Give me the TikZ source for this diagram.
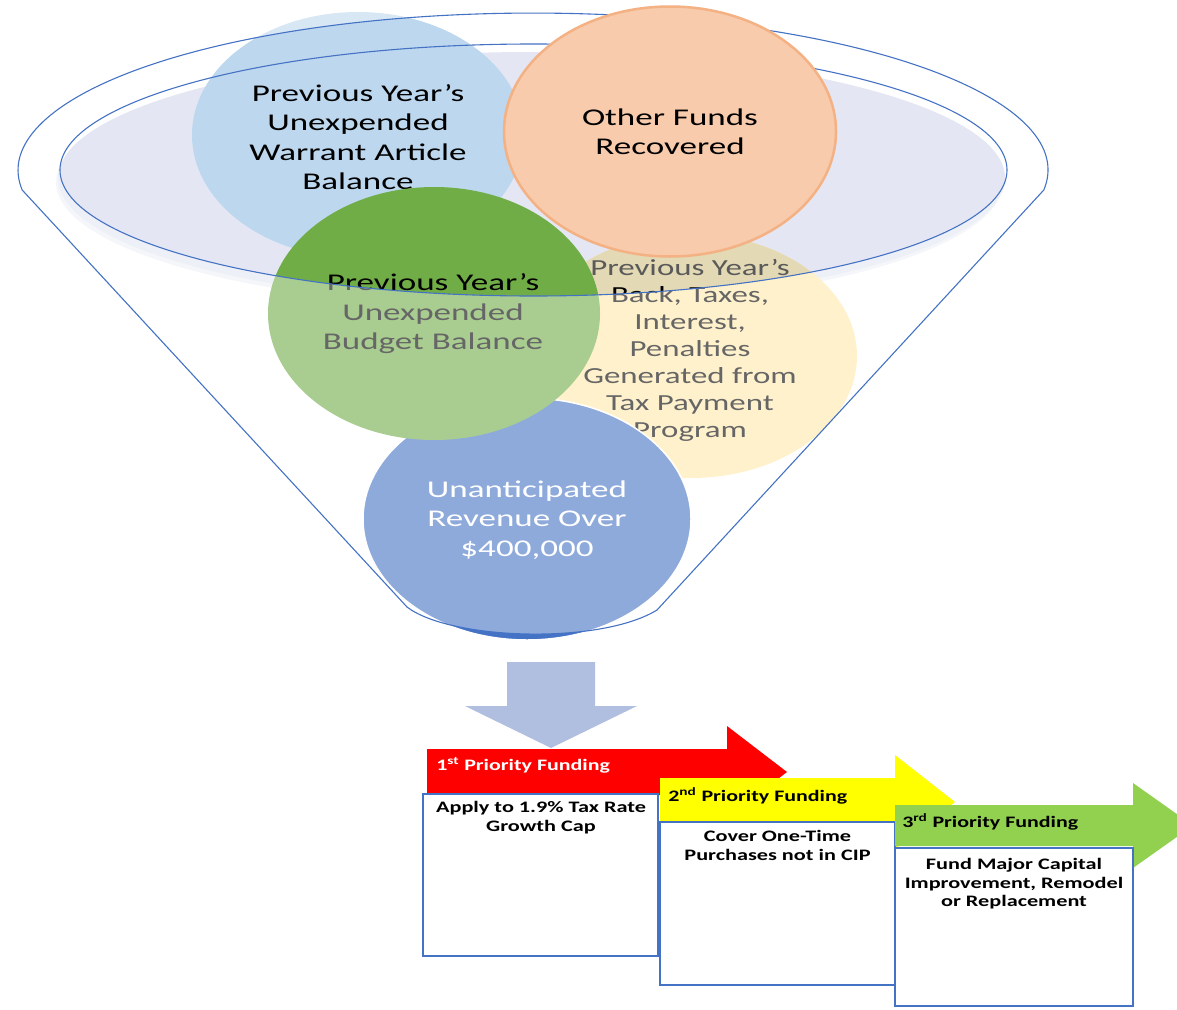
\documentclass[tikz,border=0pt]{standalone}
\usepackage{fontspec}
\setmainfont{Carlito}
\definecolor{fline}{HTML}{4472C4}
\definecolor{lav}{HTML}{E4E7F3}
\definecolor{lavsh}{HTML}{EEF0F7}
\definecolor{lblue}{HTML}{BDD7EE}
\definecolor{orfill}{HTML}{F8CBAD}
\definecolor{ordraw}{HTML}{F4B183}
\definecolor{yelbase}{HTML}{FFE9AA}
\definecolor{yeltan}{HTML}{E3D9B5}
\definecolor{yeltext}{HTML}{595959}
\definecolor{grn}{HTML}{70AD47}
\definecolor{dblue}{HTML}{4472C4}
\definecolor{arrowblue}{HTML}{B0BEE0}
\definecolor{pred}{HTML}{FF0000}
\definecolor{pyel}{HTML}{FFFF00}
\definecolor{pgrn}{HTML}{92D050}
\begin{document}
\begin{tikzpicture}[x=1pt,y=-1pt,
  ctext/.style={align=center,font=\fontsize{24}{29.5}\selectfont,xscale=1.46,inner sep=0pt},
  ytext/.style={align=center,font=\fontsize{23}{27}\selectfont,xscale=1.43,inner sep=0pt},
  plabel/.style={anchor=west,font=\bfseries\fontsize{16}{18}\selectfont,xscale=1.37,inner sep=0pt},
  btext/.style={align=center,font=\bfseries\fontsize{16}{18.3}\selectfont,xscale=1.39,inner sep=0pt,anchor=north},
  pbox/.style={draw=fline,line width=2.5pt,fill=white},
  funnelline/.style={draw=fline,line width=1.1pt},
]
\useasboundingbox (0,0) rectangle (1177,1009);
\clip (0,0) rectangle (1177,1009);

% lavender inner surface with shadow
\fill[lavsh] (529.5,182) ellipse [x radius=473.5, y radius=126];
\fill[lav] (531.5,178) ellipse [x radius=473.5, y radius=126];

% circles behind the funnel rim
\path[fill=lblue] (358,135) ellipse [x radius=166, y radius=123];
\node[ctext] (warrant) at (358,137) {Previous Year’s\\Unexpended\\Warrant Article\\Balance};

\path[fill=yelbase] (691,356) ellipse [x radius=166, y radius=122];
\begin{scope}
  \clip (533.5,170) ellipse [x radius=473.5, y radius=126];
  \fill[yeltan] (691,356) ellipse [x radius=166, y radius=122];
\end{scope}
\node[ytext] (backtax) at (690,350) {\textcolor{yeltext}{Previous Year’s}\\Back, Taxes,\\Interest,\\Penalties\\Generated from\\Tax Payment\\Program};

\path[fill=dblue, draw=white, line width=1.5pt] (527,519) ellipse [x radius=164, y radius=121];
\node[ctext, text=white] (unanticipated) at (527,520) {Unanticipated\\Revenue Over\\\$400,000};

\path[fill=grn] (434,313.5) ellipse [x radius=166, y radius=126.5];
\node[ctext] (budget) at (433,314) {Previous Year’s\\Unexpended\\Budget Balance};

% translucent funnel body
\fill[white, opacity=0.4, even odd rule]
 (0,0) -- (1177,0) -- (1177,170) -- (1048,170)
   arc[start angle=0, end angle=7.3, x radius=515, y radius=157]
   -- (657,610) .. controls (600,645) and (450,640) .. (407,607)
   -- (21.7,190) arc[start angle=172.7, end angle=180, x radius=515, y radius=157]
   -- (0,170) -- cycle
 (17.5,170) arc[start angle=180, end angle=360, x radius=515, y radius=157]
   -- (1007,170) arc[start angle=0, end angle=180, x radius=473.5, y radius=126] -- cycle;

% funnel outlines
\draw[funnelline] (1043.8,190) arc[start angle=7.3, end angle=-187.3, x radius=515, y radius=157]
  -- (407,607) .. controls (450,640) and (600,645) .. (657,610) -- cycle;
\draw[funnelline] (533.5,170) ellipse [x radius=473.5, y radius=126];

% orange circle in front
\path[fill=orfill, draw=ordraw, line width=2.5pt] (670,131.5) ellipse [x radius=166, y radius=125];
\node[ctext] (other) at (670,131.5) {Other Funds\\Recovered};

% down arrow
\fill[arrowblue] (507,662) -- (595,662) -- (595,706) -- (637,706) -- (551,748) -- (465,706) -- (507,706) -- cycle;

% priority arrows and boxes
\fill[pred] (427,749) -- (727,749) -- (727,726) -- (787,772) -- (727,818) -- (727,795) -- (427,795) -- cycle;
\draw[pbox] (423,794) rectangle (658,956);
\node[plabel, text=white] (p1) at (436,765) {1\textsuperscript{st} Priority Funding};
\node[btext] (b1) at (541,801.5) {Apply to 1.9\% Tax Rate\\Growth Cap};

\fill[pyel] (660,778) -- (895,778) -- (895,755) -- (955,802) -- (895,849) -- (895,826) -- (660,826) -- cycle;
\draw[pbox] (660,822) rectangle (895,985);
\node[plabel] (p2) at (668,796) {2\textsuperscript{nd} Priority Funding};
\node[btext] (b2) at (777.5,830.5) {Cover One-Time\\Purchases not in CIP};

\fill[pgrn] (895,805) -- (1133,805) -- (1133,783) -- (1193,825.5) -- (1133,868) -- (1133,846) -- (895,846) -- cycle;
\draw[pbox] (895,848) rectangle (1133,1006);
\node[plabel] (p3) at (902,822) {3\textsuperscript{rd} Priority Funding};
\node[btext] (b3) at (1014,858.5) {Fund Major Capital\\Improvement, Remodel\\or Replacement};
\end{tikzpicture}
\end{document}
